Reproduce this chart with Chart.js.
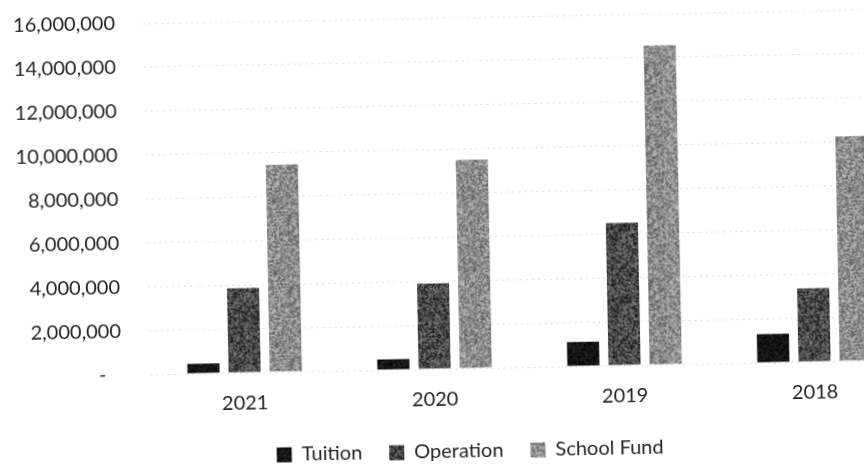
<!DOCTYPE html>
<html>
<head>
<meta charset="utf-8">
<script src="https://cdn.jsdelivr.net/npm/chart.js@4/dist/chart.umd.min.js"></script>
<style>
  html, body { margin: 0; padding: 0; background: #ffffff; overflow: hidden; width: 864px; height: 464px; }
  #wrap { position: absolute; left: 0; top: 0; width: 940px; height: 464px;
          transform: rotate(-1.1deg); transform-origin: 432px 232px; }
</style>
</head>
<body>
<div id="wrap"><canvas id="c" width="940" height="464"></canvas></div>
<script>
// School budget by year
const years = ['2021', '2020', '2019', '2018'];
const tuition = [450000, 480000, 1100000, 1300000];
const operation = [3850000, 3900000, 6500000, 3350000];
const schoolFund = [9450000, 9500000, 14550000, 10250000];
const yTicks = { min: 0, max: 16000000, step: 2000000 };

const textColor = '#1f1f1f';
const font = { family: 'Lato', size: 20 };

// Printed-toner look for the bar fills: a soft, fixed speckle tile
function speckle(base, spread, seed) {
  const n = 48, size = 72;
  const src = document.createElement('canvas');
  src.width = src.height = n;
  const sctx = src.getContext('2d');
  const img = sctx.createImageData(n, n);
  for (let i = 0; i < n * n; i++) {
    let h = ((i + seed * 7919) * 2654435761) >>> 0;
    h ^= h >>> 15; h = Math.imul(h, 2246822519) >>> 0; h ^= h >>> 13;
    const v = Math.max(0, Math.min(255, base + ((h % 1000) / 1000 - 0.5) * spread));
    img.data[i * 4] = img.data[i * 4 + 1] = img.data[i * 4 + 2] = v;
    img.data[i * 4 + 3] = 255;
  }
  sctx.putImageData(img, 0, 0);
  const tile = document.createElement('canvas');
  tile.width = tile.height = size;
  const tctx = tile.getContext('2d');
  tctx.imageSmoothingEnabled = true;
  tctx.drawImage(src, 0, 0, size, size);
  return tctx.createPattern(tile, 'repeat');
}

new Chart(document.getElementById('c'), {
  type: 'bar',
  data: {
    labels: years,
    datasets: [
      { label: 'Tuition', data: tuition, backgroundColor: speckle(0x1e, 20, 1) },
      { label: 'Operation', data: operation, backgroundColor: speckle(0x66, 55, 2) },
      { label: 'School Fund', data: schoolFund, backgroundColor: speckle(0xa6, 50, 3) }
    ]
  },
  options: {
    responsive: false,
    animation: false,
    devicePixelRatio: 1,
    layout: { padding: { left: 25, right: 33, top: 18, bottom: 0 } },
    datasets: { bar: { categoryPercentage: 0.65, barPercentage: 0.78 } },
    plugins: {
      tooltip: { enabled: false },
      legend: {
        position: 'bottom',
        maxHeight: 49,
        labels: {
          color: textColor,
          font: font,
          boxWidth: 15,
          boxHeight: 15,
          padding: 27
        }
      }
    },
    scales: {
      x: {
        grid: { display: false, drawTicks: false },
        border: { display: false },
        ticks: { color: textColor, font: font, padding: 19 },
        afterFit: (s) => { s.height = 46; }
      },
      y: {
        min: yTicks.min,
        max: yTicks.max,
        grid: { color: 'rgba(0,0,0,0.13)', drawTicks: false, lineWidth: 1 },
        border: { display: false, dash: [2, 4] },
        ticks: {
          stepSize: yTicks.step,
          color: textColor,
          font: font,
          padding: 28,
          callback: (v) => v === 0 ? '-   ' : v.toLocaleString('en-US')
        },
        afterFit: (s) => {
          s.width = 122;
          s.paddingTop = 0;
          s.paddingBottom = 0;
          // let the wide tick labels run past the axis box
          s._computeLabelArea = () => undefined;
        }
      }
    }
  }
});
</script>
</body>
</html>
